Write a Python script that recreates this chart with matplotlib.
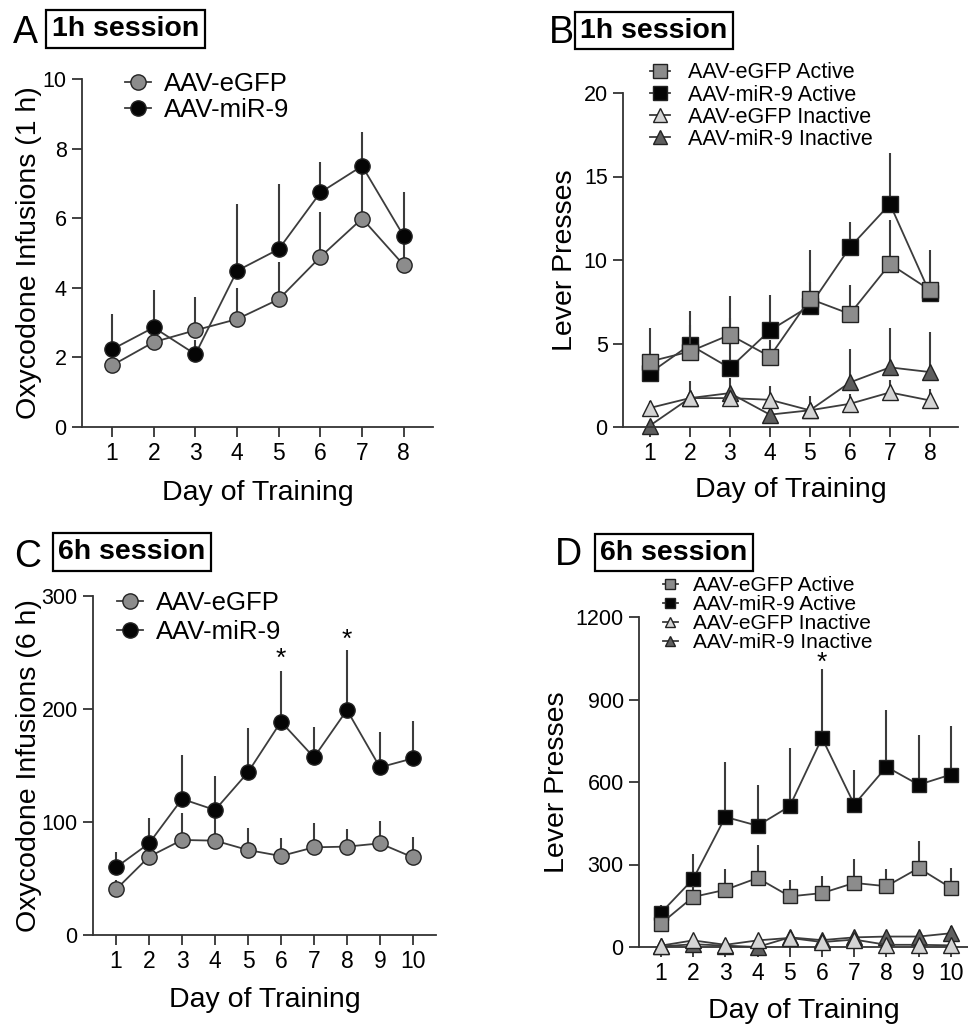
import matplotlib
matplotlib.use("Agg")
import matplotlib.pyplot as plt
from matplotlib.lines import Line2D
import numpy as np

plt.rcParams['font.family'] = ['Liberation Sans', 'DejaVu Sans']

# ---- data ----
days_1h = [1, 2, 3, 4, 5, 6, 7, 8]
days_6h = [1, 2, 3, 4, 5, 6, 7, 8, 9, 10]

# A: infusions, 1h
egfp_1h = [1.77, 2.44, 2.78, 3.10, 3.67, 4.89, 5.99, 4.65]
egfp_1h_err = [0.4, 0.5, 0.96, 0.88, 1.08, 1.29, 1.3, 0.7]
mir_1h = [2.23, 2.86, 2.09, 4.49, 5.11, 6.74, 7.50, 5.48]
mir_1h_err = [1.03, 1.07, 0.4, 1.91, 1.86, 0.88, 0.97, 1.27]

# B: lever presses, 1h
egfp_act_1h = [3.92, 4.52, 5.52, 4.22, 7.67, 6.77, 9.76, 8.20]
egfp_act_1h_err = [2.0, 2.4, 1.0, 1.0, 1.0, 1.73, 2.64, 0.6]
mir_act_1h = [3.23, 4.92, 3.53, 5.78, 7.25, 10.76, 13.35, 8.00]
mir_act_1h_err = [0.5, 1.2, 4.32, 2.12, 3.35, 1.54, 3.05, 2.6]
egfp_inact_1h = [1.14, 1.73, 1.73, 1.63, 1.00, 1.39, 2.07, 1.59]
egfp_inact_1h_err = [0.4, 1.0, 0.5, 0.84, 0.83, 0.6, 0.76, 0.68]
mir_inact_1h = [0.08, 1.73, 2.03, 0.74, 1.00, 2.67, 3.57, 3.29]
mir_inact_1h_err = [0.1, 0.5, 0.9, 0.3, 0.4, 1.99, 2.35, 2.39]

# C: infusions, 6h
egfp_6h = [40.4, 69.3, 84.1, 83.5, 75.2, 69.9, 77.6, 78.2, 81.1, 68.7]
egfp_6h_err = [8, 10, 24, 20, 19.2, 15.6, 21.2, 15.6, 19.8, 18.3]
mir_6h = [59.9, 81.1, 120.4, 110.6, 144.0, 188.8, 157.2, 199.1, 148.4, 156.3]
mir_6h_err = [13.8, 22.7, 38.9, 30.1, 38.9, 45.1, 26.6, 53.1, 31.0, 33.1]

# D: lever presses, 6h
egfp_act_6h = [85, 182, 208, 251, 184, 196, 233, 221, 287, 215]
egfp_act_6h_err = [20, 40, 76, 121, 61, 61, 87, 63, 97, 72]
mir_act_6h = [124, 247, 473, 441, 512, 760, 518, 655, 590, 627]
mir_act_6h_err = [30, 92, 200, 149, 212, 252, 127, 206, 182, 178]
egfp_inact_6h = [5, 24, 8, 24, 33, 18, 27, 8, 8, 6]
egfp_inact_6h_err = [5, 8, 5, 8, 10, 8, 8, 5, 5, 5]
mir_inact_6h = [2, 10, 5, 0, 35, 25, 35, 38, 38, 50]
mir_inact_6h_err = [3, 5, 3, 3, 12, 8, 10, 10, 12, 25]

# significance marks (day, y)
stars_c = [(6, 244), (8, 261)]
stars_d = [(6, 1035)]

# ---- styling ----
LINE = '#3c3c3c'
EDGE = '#222222'
GREY = '#8c8c8c'
BLACK = '#050505'
LIGHT = '#d4d4d4'
DARK = '#5e5e5e'
XTICK_FS = 16.5
YTICK_FS = 15.5
LABEL_FS = 20.5


def series(ax, x, y, err, marker, face, ms, z):
    ax.errorbar(x, y, yerr=[np.zeros(len(err)), err], fmt='none', ecolor=LINE,
                elinewidth=1.5, capsize=0, zorder=z, clip_on=False)
    ax.plot(x, y, color=LINE, lw=1.3, marker=marker, ms=ms, mfc=face, mec=EDGE,
            mew=1.0, zorder=z + 0.5, clip_on=False)


def style_axes(ax, xlim, ylim, yticks, days):
    ax.set_xlim(*xlim)
    ax.set_ylim(*ylim)
    ax.set_xticks(days)
    ax.set_yticks(yticks)
    for s in ['top', 'right']:
        ax.spines[s].set_visible(False)
    for s in ['left', 'bottom']:
        ax.spines[s].set_linewidth(1.3)
        ax.spines[s].set_color('#333333')
    ax.tick_params(direction='out', length=7, width=1.3, color='#333333', pad=4)
    ax.tick_params(axis='x', labelsize=XTICK_FS)
    ax.tick_params(axis='y', labelsize=YTICK_FS)


def header(fig, letter, lx, ly, text, bx, by):
    fig.text(lx, ly, letter, fontsize=27, ha='center', va='baseline')
    fig.text(bx, by, text, fontsize=20.5, fontweight='bold', ha='center', va='center',
             bbox=dict(boxstyle='square,pad=0.2', fc='white', ec='black', lw=1.6))


def legend(ax, handles, labels, anchor, fs, spacing, hlen, tpad):
    ax.legend(handles, labels, loc='upper left', bbox_to_anchor=anchor,
              bbox_transform=ax.figure.transFigure, frameon=False, fontsize=fs,
              handlelength=hlen, handletextpad=tpad, labelspacing=spacing,
              borderpad=0, borderaxespad=0)


def handle(marker, face, ms):
    return Line2D([], [], color=LINE, lw=1.3, marker=marker, ms=ms, mfc=face,
                  mec=EDGE, mew=1.0)


fig = plt.figure(figsize=(9.68, 10.27), dpi=100)
W, H = 968.0, 1027.0


def axes_px(left, right, top, bottom):
    return fig.add_axes([left / W, 1 - bottom / H, (right - left) / W, (bottom - top) / H])


def labels(ax, ylab, yx, xy):
    ax.set_ylabel(ylab, fontsize=LABEL_FS)
    ax.set_xlabel('Day of Training', fontsize=LABEL_FS)
    ax.yaxis.set_label_coords(yx, 0.5)
    ax.xaxis.set_label_coords(0.5, xy)


# ---- A ----
axA = axes_px(82, 433, 79, 427)
series(axA, days_1h, egfp_1h, egfp_1h_err, 'o', GREY, 11, 2)
series(axA, days_1h, mir_1h, mir_1h_err, 'o', BLACK, 11, 3)
style_axes(axA, (0.28, 8.7), (0, 10), [0, 2, 4, 6, 8, 10], days_1h)
labels(axA, 'Oxycodone Infusions (1 h)', -0.114, -0.152)
legend(axA, [handle('o', GREY, 11), handle('o', BLACK, 11)], ['AAV-eGFP', 'AAV-miR-9'],
       (125 / W, 1 - 72 / H), 18.5, 0.08, 1.0, 0.5)
header(fig, 'A', 25.5 / W, 1 - 43 / H, '1h session', 125.5 / W, 1 - 29 / H)

# ---- B ----
axB = axes_px(623, 958, 93, 427)
series(axB, days_1h, mir_inact_1h, mir_inact_1h_err, '^', DARK, 11, 2)
series(axB, days_1h, egfp_inact_1h, egfp_inact_1h_err, '^', LIGHT, 11, 3)
series(axB, days_1h, mir_act_1h, mir_act_1h_err, 's', BLACK, 11, 4)
series(axB, days_1h, egfp_act_1h, egfp_act_1h_err, 's', GREY, 11, 5)
style_axes(axB, (0.33, 8.7), (0, 20), [0, 5, 10, 15, 20], days_1h)
labels(axB, 'Lever Presses', -0.134, -0.15)
legend(axB, [handle('s', GREY, 10), handle('s', BLACK, 10),
             handle('^', LIGHT, 10), handle('^', DARK, 10)],
       ['AAV-eGFP Active', 'AAV-miR-9 Active', 'AAV-eGFP Inactive', 'AAV-miR-9 Inactive'],
       (650 / W, 1 - 62.5 / H), 15.5, 0.05, 0.95, 0.8)
header(fig, 'B', 561 / W, 1 - 43 / H, '1h session', 654 / W, 1 - 30.5 / H)

# ---- C ----
axC = axes_px(93, 436, 596, 935)
series(axC, days_6h, egfp_6h, egfp_6h_err, 'o', GREY, 11, 2)
series(axC, days_6h, mir_6h, mir_6h_err, 'o', BLACK, 11, 3)
style_axes(axC, (0.3, 10.7), (0, 300), [0, 100, 200, 300], days_6h)
labels(axC, 'Oxycodone Infusions (6 h)', -0.15, -0.153)
for d, v in stars_c:
    axC.text(d, v, '*', fontsize=19, ha='center', va='center')
legend(axC, [handle('o', GREY, 11), handle('o', BLACK, 11)], ['AAV-eGFP', 'AAV-miR-9'],
       (117 / W, 1 - 591 / H), 18.5, 0.2, 1.0, 0.5)
header(fig, 'C', 27.5 / W, 1 - 567 / H, '6h session', 132 / W, 1 - 552 / H)

# ---- D ----
axD = axes_px(639, 968, 617, 947)
series(axD, days_6h, mir_inact_6h, mir_inact_6h_err, '^', DARK, 11, 2)
series(axD, days_6h, mir_act_6h, mir_act_6h_err, 's', BLACK, 10, 4)
series(axD, days_6h, egfp_act_6h, egfp_act_6h_err, 's', GREY, 10, 5)
series(axD, days_6h, egfp_inact_6h, egfp_inact_6h_err, '^', LIGHT, 11, 6)
style_axes(axD, (0.32, 10.53), (0, 1200), [0, 300, 600, 900, 1200], days_6h)
labels(axD, 'Lever Presses', -0.21, -0.155)
for d, v in stars_d:
    axD.text(d, v, '*', fontsize=19, ha='center', va='center')
legend(axD, [handle('s', GREY, 7), handle('s', BLACK, 7),
             handle('^', LIGHT, 7), handle('^', DARK, 7)],
       ['AAV-eGFP Active', 'AAV-miR-9 Active', 'AAV-eGFP Inactive', 'AAV-miR-9 Inactive'],
       (663 / W, 1 - 576 / H), 15, 0.0, 0.7, 0.75)
header(fig, 'D', 568 / W, 1 - 565 / H, '6h session', 674 / W, 1 - 552.5 / H)

fig.savefig('out.png', dpi=100)
